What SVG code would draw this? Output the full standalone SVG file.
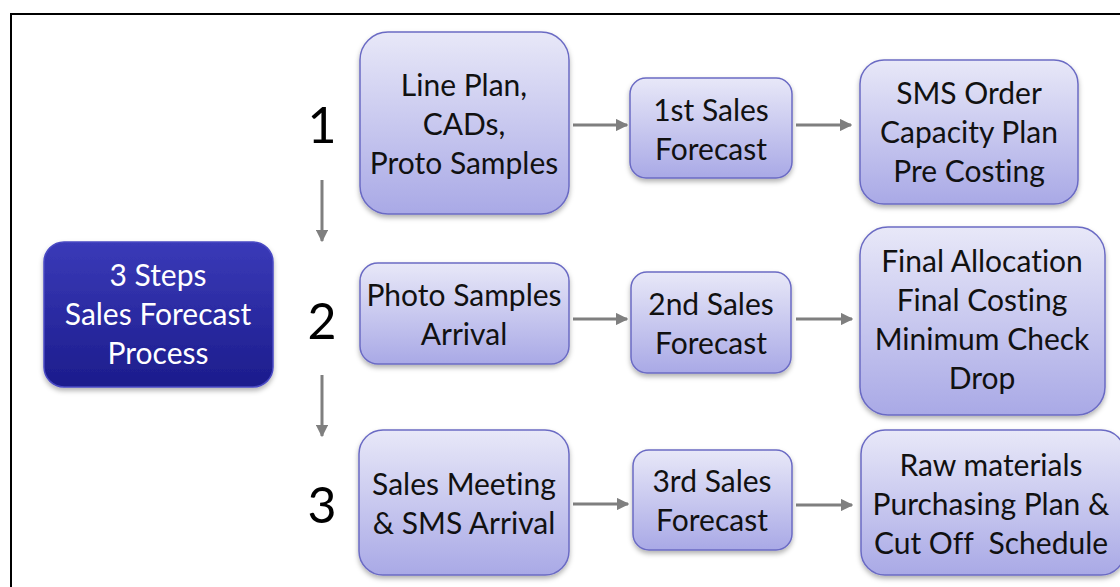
<svg xmlns="http://www.w3.org/2000/svg" width="1120" height="587" viewBox="0 0 1120 587">
  <defs>
    <linearGradient id="lav" x1="0" y1="0" x2="0" y2="1">
      <stop offset="0" stop-color="#e8e8f8"/>
      <stop offset="1" stop-color="#a9a9e6"/>
    </linearGradient>
    <linearGradient id="navy" x1="0" y1="0" x2="0" y2="1">
      <stop offset="0" stop-color="#3a3ab8"/>
      <stop offset="1" stop-color="#1c1c8c"/>
    </linearGradient>
    <filter id="shadow" x="-10%" y="-10%" width="125%" height="130%">
      <feDropShadow dx="0" dy="3" stdDeviation="2.5" flood-color="#000" flood-opacity="0.3"/>
    </filter>
    <marker id="arrow" viewBox="0 0 10 10" refX="9" refY="5" markerWidth="4.2" markerHeight="4.2" orient="auto" markerUnits="strokeWidth">
      <path d="M0,0 L10,5 L0,10 z" fill="#7f7f7f"/>
    </marker>
  </defs>
  <style>
    .box { fill: url(#lav); stroke: #6b6bc4; stroke-width: 1.5; filter: url(#shadow); }
    .main { fill: url(#navy); stroke: #4a4ac4; stroke-width: 1.5; filter: url(#shadow); }
    text { font-family: Lato, "Liberation Sans", sans-serif; font-variant-ligatures: none; text-anchor: middle; }
    .t { font-size: 30px; fill: #111; white-space: pre; }
    .tw { font-size: 30px; fill: #fff; }
    .num { font-size: 50px; fill: #000; }
    .conn { stroke: #7f7f7f; stroke-width: 3; fill: none; marker-end: url(#arrow); }
  </style>

  <rect width="1120" height="587" fill="#fff"/>
  <!-- outer frame -->
  <rect x="11" y="14" width="1130" height="600" fill="none" stroke="#000" stroke-width="2"/>

  <!-- step numbers -->
  <text class="num" x="322" y="143">1</text>
  <text class="num" x="322" y="339">2</text>
  <text class="num" x="322" y="523">3</text>

  <g id="connectors">
    <line class="conn" x1="322" y1="180" x2="322" y2="241"/>
    <line class="conn" x1="322" y1="375" x2="322" y2="436"/>
    <line class="conn" x1="573" y1="125" x2="627" y2="125"/>
    <line class="conn" x1="796" y1="125" x2="851" y2="125"/>
    <line class="conn" x1="573" y1="319" x2="627" y2="319"/>
    <line class="conn" x1="796" y1="319" x2="852" y2="319"/>
    <line class="conn" x1="573" y1="504" x2="628" y2="504"/>
    <line class="conn" x1="796" y1="505" x2="852" y2="505"/>
  </g>

  <g id="main">
    <rect class="main" x="44" y="242" width="229" height="145" rx="20"/>
    <text class="tw" x="158" y="286">3 Steps</text>
    <text class="tw" x="158" y="325">Sales Forecast</text>
    <text class="tw" x="158" y="364">Process</text>
  </g>

  <g id="line-plan">
    <rect class="box" x="360" y="32" width="209" height="182" rx="28"/>
    <text class="t" x="464" y="96">Line Plan,</text>
    <text class="t" x="464" y="135">CADs,</text>
    <text class="t" x="464" y="174">Proto Samples</text>
  </g>
  <g id="forecast-1">
    <rect class="box" x="630" y="78" width="162" height="100" rx="16"/>
    <text class="t" x="711" y="121">1st Sales</text>
    <text class="t" x="711" y="160">Forecast</text>
  </g>
  <g id="sms-order">
    <rect class="box" x="860" y="60" width="218" height="144" rx="24"/>
    <text class="t" x="969" y="104">SMS Order</text>
    <text class="t" x="969" y="143">Capacity Plan</text>
    <text class="t" x="969" y="182">Pre Costing</text>
  </g>

  <g id="photo-samples">
    <rect class="box" x="360" y="263" width="209" height="101" rx="18"/>
    <text class="t" x="464" y="306">Photo Samples</text>
    <text class="t" x="464" y="345">Arrival</text>
  </g>
  <g id="forecast-2">
    <rect class="box" x="631" y="272" width="160" height="101" rx="16"/>
    <text class="t" x="711" y="315">2nd Sales</text>
    <text class="t" x="711" y="354">Forecast</text>
  </g>
  <g id="final-allocation">
    <rect class="box" x="860" y="227" width="245" height="188" rx="28"/>
    <text class="t" x="982" y="272">Final Allocation</text>
    <text class="t" x="982" y="311">Final Costing</text>
    <text class="t" x="982" y="350">Minimum Check</text>
    <text class="t" x="982" y="389">Drop</text>
  </g>

  <g id="sales-meeting">
    <rect class="box" x="359" y="430" width="210" height="145" rx="24"/>
    <text class="t" x="464" y="495">Sales Meeting</text>
    <text class="t" x="464" y="534">&amp; SMS Arrival</text>
  </g>
  <g id="forecast-3">
    <rect class="box" x="633" y="450" width="159" height="100" rx="16"/>
    <text class="t" x="712" y="492">3rd Sales</text>
    <text class="t" x="712" y="531">Forecast</text>
  </g>
  <g id="raw-materials">
    <rect class="box" x="861" y="430" width="264" height="145" rx="24"/>
    <text class="t" x="991" y="476">Raw materials</text>
    <text class="t" x="991" y="515">Purchasing Plan &amp;</text>
    <text class="t" x="991" y="554">Cut Off  Schedule</text>
  </g>
</svg>
